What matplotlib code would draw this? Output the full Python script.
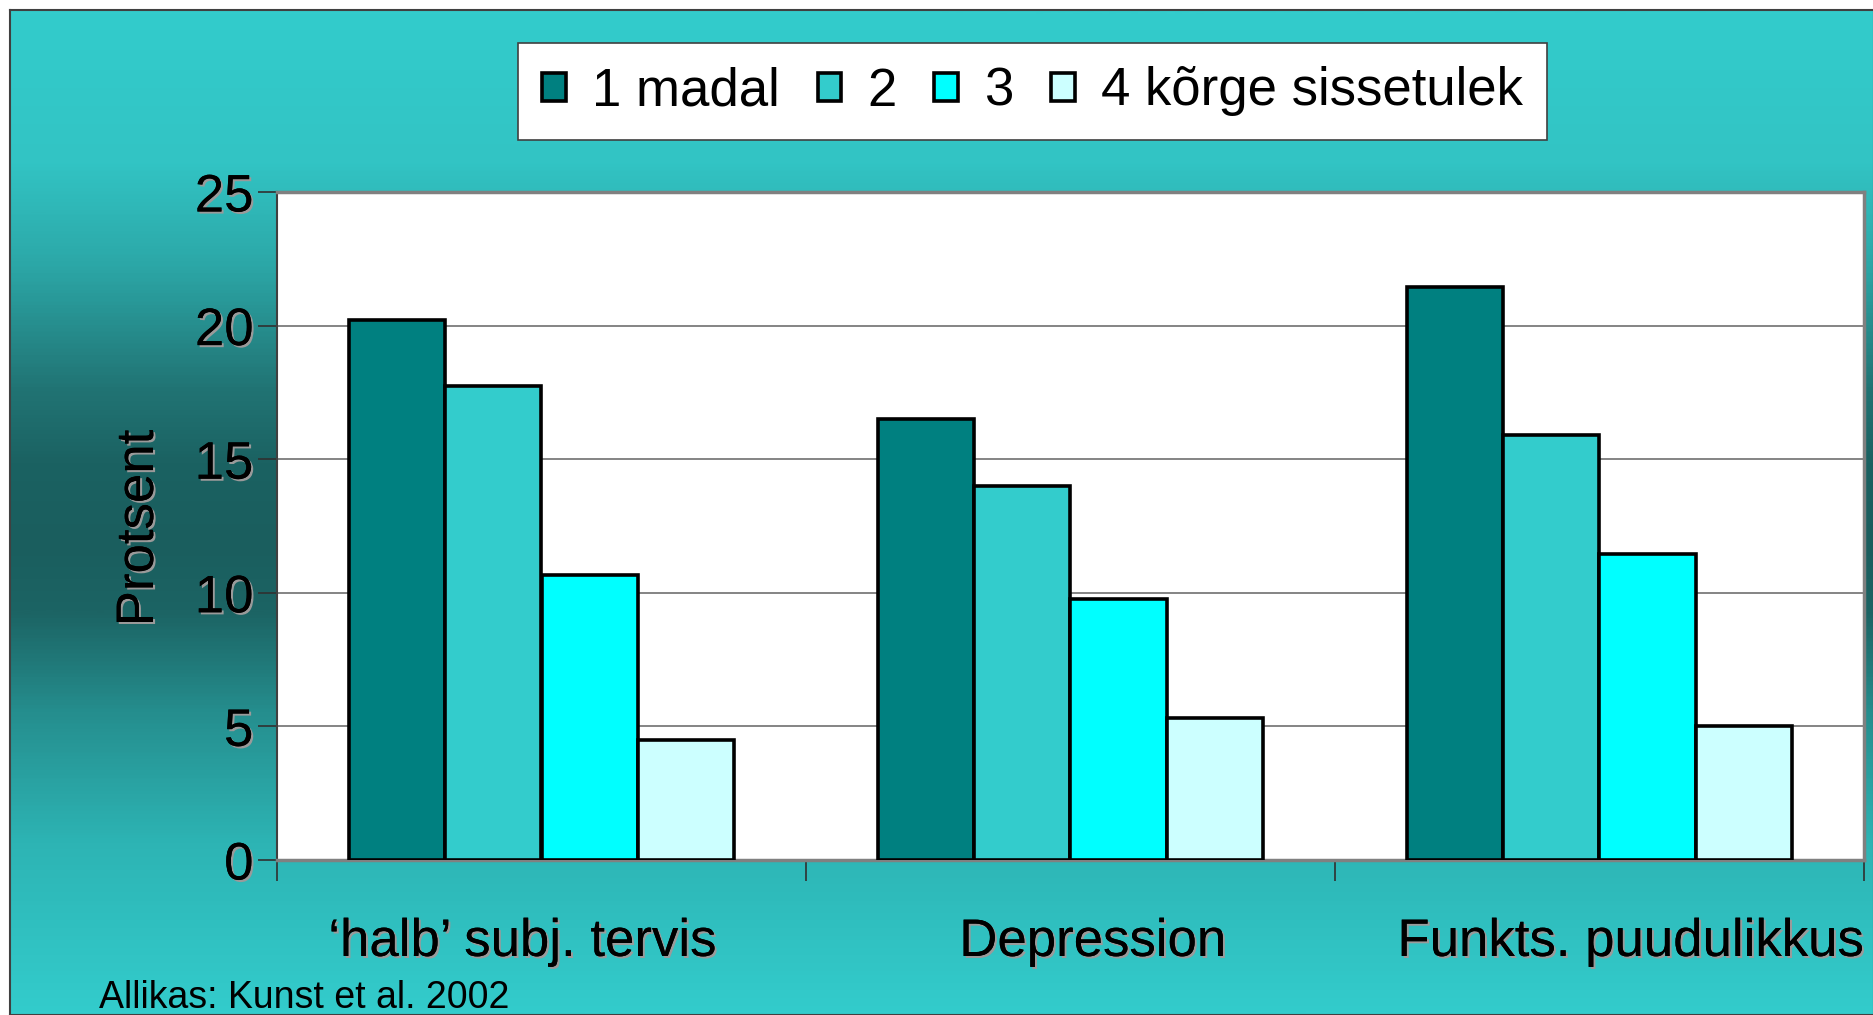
import numpy as np
import matplotlib.pyplot as plt
import matplotlib.patheffects as pe
import matplotlib.transforms as mtransforms
from matplotlib.colors import LinearSegmentedColormap

plt.rcParams['font.family'] = ['Liberation Sans', 'DejaVu Sans']

# data
categories = ["\u2018halb\u2019 subj. tervis", "Depression", "Funkts. puudulikkus"]
groups = ["1 madal", "2", "3", "4 k\u00f5rge sissetulek"]
madal = [20.2, 16.5, 21.45]
grupp2 = [17.75, 14.0, 15.9]
grupp3 = [10.65, 9.75, 11.45]
korge = [4.5, 5.3, 5.0]
yticks = [0, 5, 10, 15, 20, 25]
ylabel = "Protsent"
source = "Allikas: Kunst et al. 2002"

bar_colors = ['#008080', '#33CCCC', '#00FFFF', '#CCFFFF']

W, H = 1874, 1015
fig = plt.figure(figsize=(W / 100, H / 100), dpi=100)
fig.patch.set_facecolor('white')

# teal slide background, dark band in the middle
bg = fig.add_axes([10 / W, 0, 1 - 10 / W, 1 - 10 / H])
stops = [(0.0, '#33CCCC'), (0.15, '#32C4C4'), (0.25, '#2CA8A8'), (0.376, '#217474'),
         (0.45, '#1B6262'), (0.53, '#1A5E5E'), (0.60, '#1C6464'), (0.70, '#258E8E'),
         (0.83, '#2DB4B4'), (1.0, '#33CCCC')]
cmap = LinearSegmentedColormap.from_list('bg', stops)
bg.imshow(np.linspace(0, 1, 600).reshape(-1, 1), aspect='auto', cmap=cmap,
          extent=[0, 1, 0, 1], origin='upper')
bg.set_xticks([])
bg.set_yticks([])
for sp in bg.spines.values():
    sp.set_color('#404040')
    sp.set_linewidth(1.5)

shadow = [pe.withSimplePatchShadow(offset=(1.5, -1.5), shadow_rgbFace='#9a9a9a', alpha=1.0), pe.Normal()]

ax = fig.add_axes([277 / W, 1 - 860 / H, (1864 - 277) / W, (860 - 192) / H])
ax.set_facecolor('white')
x = np.arange(len(categories)) + 0.5
w = 0.182
series = [madal, grupp2, grupp3, korge]
for i, (vals, lab, col) in enumerate(zip(series, groups, bar_colors)):
    ax.bar(x + (i - 1.5) * w, vals, w, color=col, edgecolor='black',
           linewidth=2.6, label=lab, zorder=3)

ax.set_xlim(0, 3)
ax.set_ylim(0, 25)
ax.set_yticks(yticks)
ax.yaxis.grid(True, color='#707070', lw=1.2)
ax.set_axisbelow(True)
ax.set_xticks([0, 1, 2, 3])
ax.set_xticklabels([])
ax.set_xticks(x, minor=True)
ax.set_xticklabels(categories, minor=True)
ax.tick_params(axis='x', which='major', length=15, width=1.2, color='#303030')
ax.tick_params(axis='x', which='minor', length=0, pad=41, labelsize=38)
ax.tick_params(axis='y', length=14, width=1.2, pad=3, labelsize=38, color='#303030')

ax.spines['top'].set_color('#808080')
ax.spines['right'].set_color('#808080')
ax.spines['bottom'].set_color('#808080')
ax.spines['top'].set_linewidth(2.5)
ax.spines['right'].set_linewidth(2.5)
ax.spines['bottom'].set_linewidth(2.5)
ax.spines['left'].set_color('#404040')
ax.spines['left'].set_linewidth(1.5)

# the category labels sit a little off-centre in the original
shifts = [-14, 16, 22]
for t, dx in zip(ax.get_xticklabels(minor=True), shifts):
    t.set_transform(t.get_transform() + mtransforms.ScaledTranslation(dx / 72, 0, fig.dpi_scale_trans))
for t in ax.get_xticklabels(minor=True) + ax.get_yticklabels():
    t.set_path_effects(shadow)

fig.text(139 / W, 1 - 528 / H, ylabel, rotation=90, fontsize=38,
         ha='center', va='center', path_effects=shadow)
fig.text(99 / W, 1 - 1008 / H, source, fontsize=27, ha='left', va='baseline')

leg = fig.legend(loc='center', bbox_to_anchor=((520 + 1545) / 2 / W, 1 - (44 + 139) / 2 / H),
                 ncol=4, fontsize=38, frameon=True, fancybox=False,
                 handlelength=0.45, handleheight=0.45, handletextpad=0.49,
                 columnspacing=0.72, borderpad=0.45, borderaxespad=0)
leg.get_frame().set_edgecolor('#404040')
leg.get_frame().set_linewidth(1.2)
leg.get_frame().set_alpha(1)

fig.savefig('out.png', dpi=100)
